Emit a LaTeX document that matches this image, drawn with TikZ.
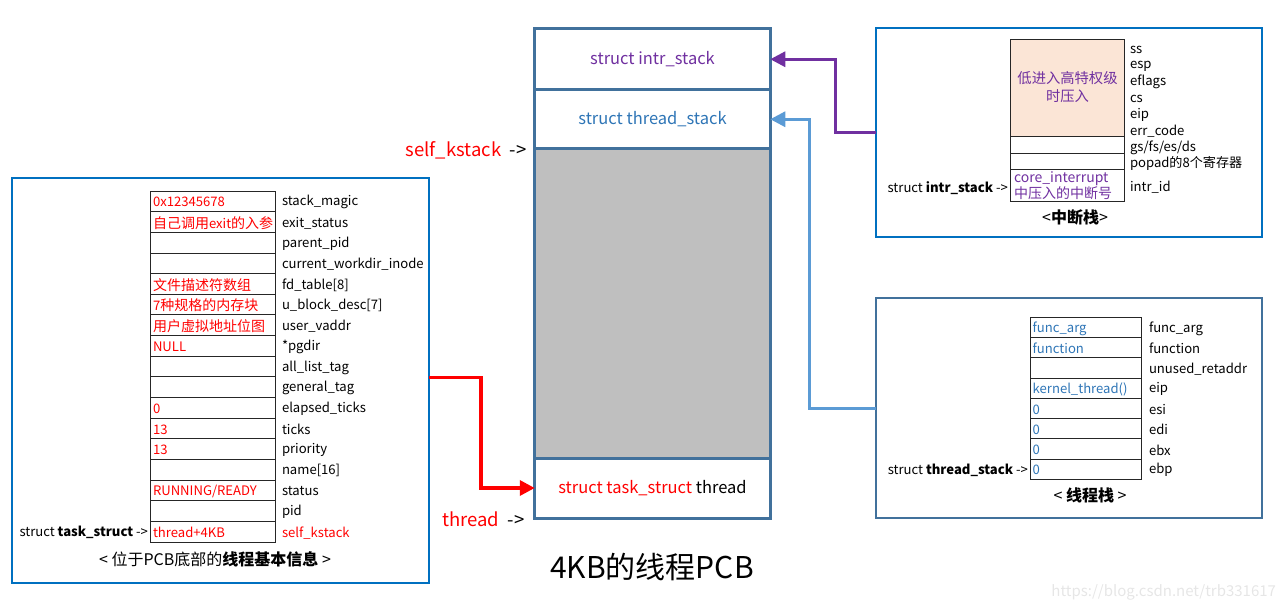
\documentclass[tikz,border=0pt]{standalone}
\usepackage{fontspec}
\setmainfont{Noto Sans CJK SC}
\usetikzlibrary{arrows.meta}
\definecolor{frameblue}{HTML}{0070C0}
\definecolor{pcbblue}{HTML}{41719C}
\definecolor{ppl}{HTML}{7030A0}
\definecolor{lblue}{HTML}{5B9BD5}
\definecolor{tblue}{HTML}{2E75B6}
\definecolor{grayfill}{HTML}{BFBFBF}
\definecolor{pinkfill}{HTML}{FBE5D6}
\definecolor{redc}{HTML}{FF0000}
\definecolor{wm}{HTML}{E6E6E6}
\newcommand{\cjbig}[1]{{\fontsize{14}{16}\selectfont #1}}
\begin{document}
\begin{tikzpicture}[x=1pt,y=-1pt,
  every node/.style={inner sep=0pt, outer sep=0pt},
  panel/.style={draw=frameblue, line width=2pt, minimum width=#1},
  pcbbox/.style={draw=pcbblue, line width=3pt, minimum width=235.5},
  cell/.style={draw=black!85, line width=0.8pt, anchor=north west},
  tx/.style={font=\fontsize{13.1}{16}\selectfont, anchor=west, yshift=-1pt},
  captxt/.style={font=\fontsize{16}{18}\selectfont, anchor=center},
  ctx/.style={font=\fontsize{16.5}{19}\selectfont},
  arr/.style={line width=3pt, -{Triangle[length=15pt,width=15pt]}}
]
\useasboundingbox (0,0) rectangle (1279,601);

% ===== panels =====
\node[panel=417, minimum height=405] (lp) at (220.5,380.5) {};
\node[panel=386, minimum height=209] (rtp) at (1069,132.5) {};
\node[panel=386, minimum height=220, draw=pcbblue] (rbp) at (1069,408) {};

% ===== PCB column =====
\node[pcbbox, minimum height=309, fill=grayfill] (gry) at (652.5,303.5) {};
\node[pcbbox, minimum height=60.5, ctx, text=ppl] (intr) at (652.5,59.25) {struct intr\_stack};
\node[pcbbox, minimum height=59.5, ctx, text=tblue] (thr) at (652.5,119.25) {struct thread\_stack};
\node[pcbbox, minimum height=60, ctx] (task) at (652.5,488) {\textcolor{redc}{struct task\_struct} thread};

\node[anchor=east, font=\fontsize{18.5}{20}\selectfont] (skl) at (527,150.5) {\textcolor{redc}{self\_kstack}\hspace{8pt}-\hspace{1pt}>};
\node[anchor=east, font=\fontsize{18.5}{20}\selectfont] (thl) at (525,519.5) {\textcolor{redc}{thread}\hspace{8pt}-\hspace{1pt}>};
\node[font=\fontsize{30}{34}\selectfont] (title) at (652,567) {4KB的线程PCB};

% ===== left table =====
\foreach \v/\c/\l [count=\i from 0] in {
  {0x12345678}/redc/{stack\_magic},
  {\cjbig{自己调用}exit\cjbig{的入参}}/redc/{exit\_status},
  {}/black/{parent\_pid},
  {}/black/{current\_workdir\_inode},
  {\cjbig{文件描述符数组}}/redc/{fd\_table[8]},
  {7\cjbig{种规格的内存块}}/redc/{u\_block\_desc[7]},
  {\cjbig{用户虚拟地址位图}}/redc/{user\_vaddr},
  {NULL}/redc/{*pgdir},
  {}/black/{all\_list\_tag},
  {}/black/{general\_tag},
  {0}/redc/{elapsed\_ticks},
  {13}/redc/{ticks},
  {13}/redc/{priority},
  {}/black/{name[16]},
  {RUNNING/READY}/redc/{status},
  {}/black/{pid}}
{
  \node[cell, minimum width=125.5, minimum height=20.65] (L\i) at (150,191+\i*20.65) {};
  \node[tx, text=\c] (Lv\i) at ([xshift=3pt]L\i.west) {\v};
  \node[tx] (Ll\i) at (282,201.3+\i*20.65) {\l};
}
\node[cell, minimum width=125.5, minimum height=20.65] (L16) at (150,521.4) {};
\node[tx, text=redc] (Lv16) at ([xshift=3pt]L16.west) {thread+4KB};
\node[tx, text=redc] (Ll16) at (282,531.7) {self\_kstack};
\node[tx, anchor=east] (tsl) at (148,531.7) {struct \textbf{task\_struct} ->};
\node[captxt] (lcap) at (215,559) {<\ 位于PCB底部的\textbf{线程基本信息}\ >};

% ===== right top table (interrupt stack) =====
\node[cell, fill=pinkfill, minimum width=113.6, minimum height=97.4] (P0) at (1010.7,39.3) {};
\node[cell, minimum width=113.6, minimum height=16.6] (P1) at (1010.7,136.7) {};
\node[cell, minimum width=113.6, minimum height=16] (P2) at (1010.7,153.3) {};
\node[cell, minimum width=113.6, minimum height=32.4] (P3) at (1010.7,169.3) {};
\node[font=\fontsize{14.3}{17.7}\selectfont, text=ppl, align=center] (ptx) at (1067.5,87) {低进入高特权级\\时压入};
\node[font=\fontsize{14}{15.8}\selectfont, text=ppl, align=left, anchor=west] (ctx3) at (1014,186) {core\_interrupt\\中压入的中断号};
\foreach \l [count=\i from 0] in {ss,esp,eflags,cs,eip,err\_code,gs/fs/es/ds,popad的8个寄存器}
{
  \node[tx] (R\i) at (1130,48.7+\i*16.3) {\l};
}
\node[tx] (R8) at (1130,186.7) {intr\_id};
\node[tx, anchor=east] (isl) at (1008,186.7) {struct \textbf{intr\_stack} ->};
\node[captxt] (rtcap) at (1075,217) {<\textbf{中断栈}>};

% ===== right bottom table (thread stack) =====
\foreach \v/\l [count=\i from 0] in {
  {func\_arg}/{func\_arg},
  {function}/{function},
  {}/{unused\_retaddr},
  {kernel\_thread()}/{eip},
  {0}/{esi},
  {0}/{edi},
  {0}/{ebx},
  {0}/{ebp}}
{
  \node[cell, minimum width=110.3, minimum height=20.25] (T\i) at (1030.7,317.3+\i*20.25) {};
  \node[tx, text=tblue] (Tv\i) at ([xshift=2pt]T\i.west) {\v};
  \node[tx] (Tl\i) at (1149,327.4+\i*20.25) {\l};
}
\node[tx, anchor=east] (tsk) at (1028,469.4) {struct \textbf{thread\_stack} ->};
\node[captxt] (rbcap) at (1090,495) {<\ \textbf{线程栈}\ >};

% ===== connectors =====
\coordinate (rs) at (429,377.3);
\coordinate (ps) at (876,132.7);
\coordinate (bs) at (876,408.3);
\draw[arr, draw=redc, line width=3.5pt] (rs) -- ++(52,0) |- (task.west);
\draw[arr, draw=ppl] (ps) -- ++(-41,0) |- (intr.east);
\draw[arr, draw=lblue] (bs) -- ++(-66.7,0) |- (thr.east);

% watermark
\node[anchor=east, text=wm, font=\fontsize{15}{17}\selectfont] (wmk) at (1276,592) {https://blog.csdn.net/trb331617};
\end{tikzpicture}
\end{document}
